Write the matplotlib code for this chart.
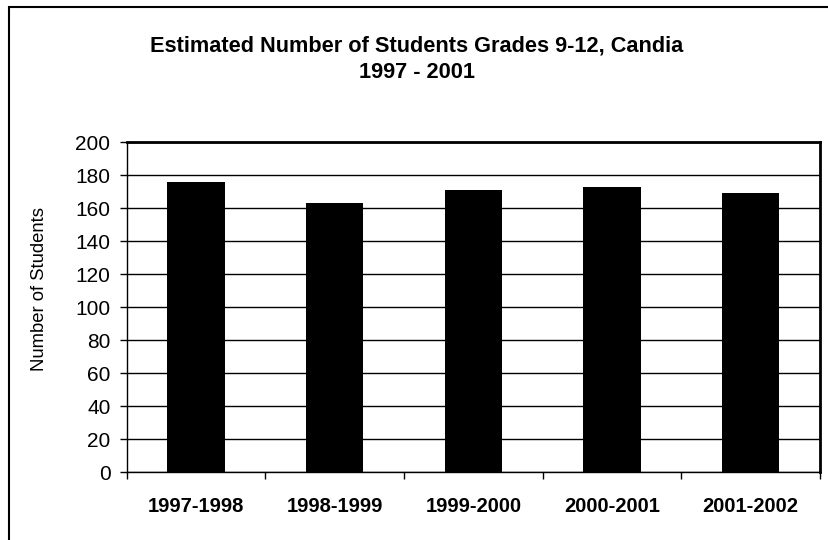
import matplotlib
matplotlib.use("Agg")
import matplotlib.pyplot as plt
from matplotlib.patches import Rectangle
import numpy as np

plt.rcParams['font.family'] = ['Liberation Sans', 'DejaVu Sans']

school_years = ["1997-1998", "1998-1999", "1999-2000", "2000-2001", "2001-2002"]
students = [176, 163, 171, 173, 169]
y_ticks = [0, 20, 40, 60, 80, 100, 120, 140, 160, 180, 200]

W, H = 829, 540
fig = plt.figure(figsize=(W / 100, H / 100), dpi=100)

# outer chart frame (right and bottom edges run past the canvas)
fig.patches.append(Rectangle((9 / W, -0.1), 1.2, 1.1 - 7 / H, transform=fig.transFigure,
                             fill=False, edgecolor="black", linewidth=1.5, zorder=0))

left, right, top, bottom = 126.7, 820, 142.3, 472
ax = fig.add_axes([left / W, 1 - bottom / H, (right - left) / W, (bottom - top) / H])

x = np.arange(len(school_years))
ax.bar(x, students, width=0.415, color="black", zorder=3)

ax.set_xlim(-0.5, len(school_years) - 0.5)
ax.set_ylim(0, 200)
ax.set_yticks(y_ticks)
ax.set_yticklabels([str(v) for v in y_ticks], fontsize=15)
ax.yaxis.grid(True, color="black", linewidth=1.0, zorder=1)
ax.set_axisbelow(True)

ax.set_xticks(x)
ax.set_xticklabels(school_years, fontsize=14.5, fontweight="bold")
ax.tick_params(axis="x", length=0, pad=18)
ax.set_xticks(np.arange(-0.5, len(school_years)), minor=True)
ax.tick_params(axis="x", which="minor", length=4.7, width=1, direction="out")
ax.tick_params(axis="y", length=4.7, width=1, direction="out", pad=7)

for side in ["left", "bottom"]:
    ax.spines[side].set_linewidth(1.0)
for side in ["top", "right"]:
    ax.spines[side].set_linewidth(2.0)

ax.set_ylabel("Number of Students", fontsize=13.3)
ax.yaxis.set_label_coords((48 - left) / (right - left), (bottom - 289) / (bottom - top))

fig.text(417 / W, 1 - 46 / H, "Estimated Number of Students Grades 9-12, Candia",
         ha="center", va="center", fontsize=15.7, fontweight="bold")
fig.text(417 / W, 1 - 73 / H, "1997 - 2001",
         ha="center", va="center", fontsize=15.7, fontweight="bold")

fig.savefig("out.png", dpi=100)
